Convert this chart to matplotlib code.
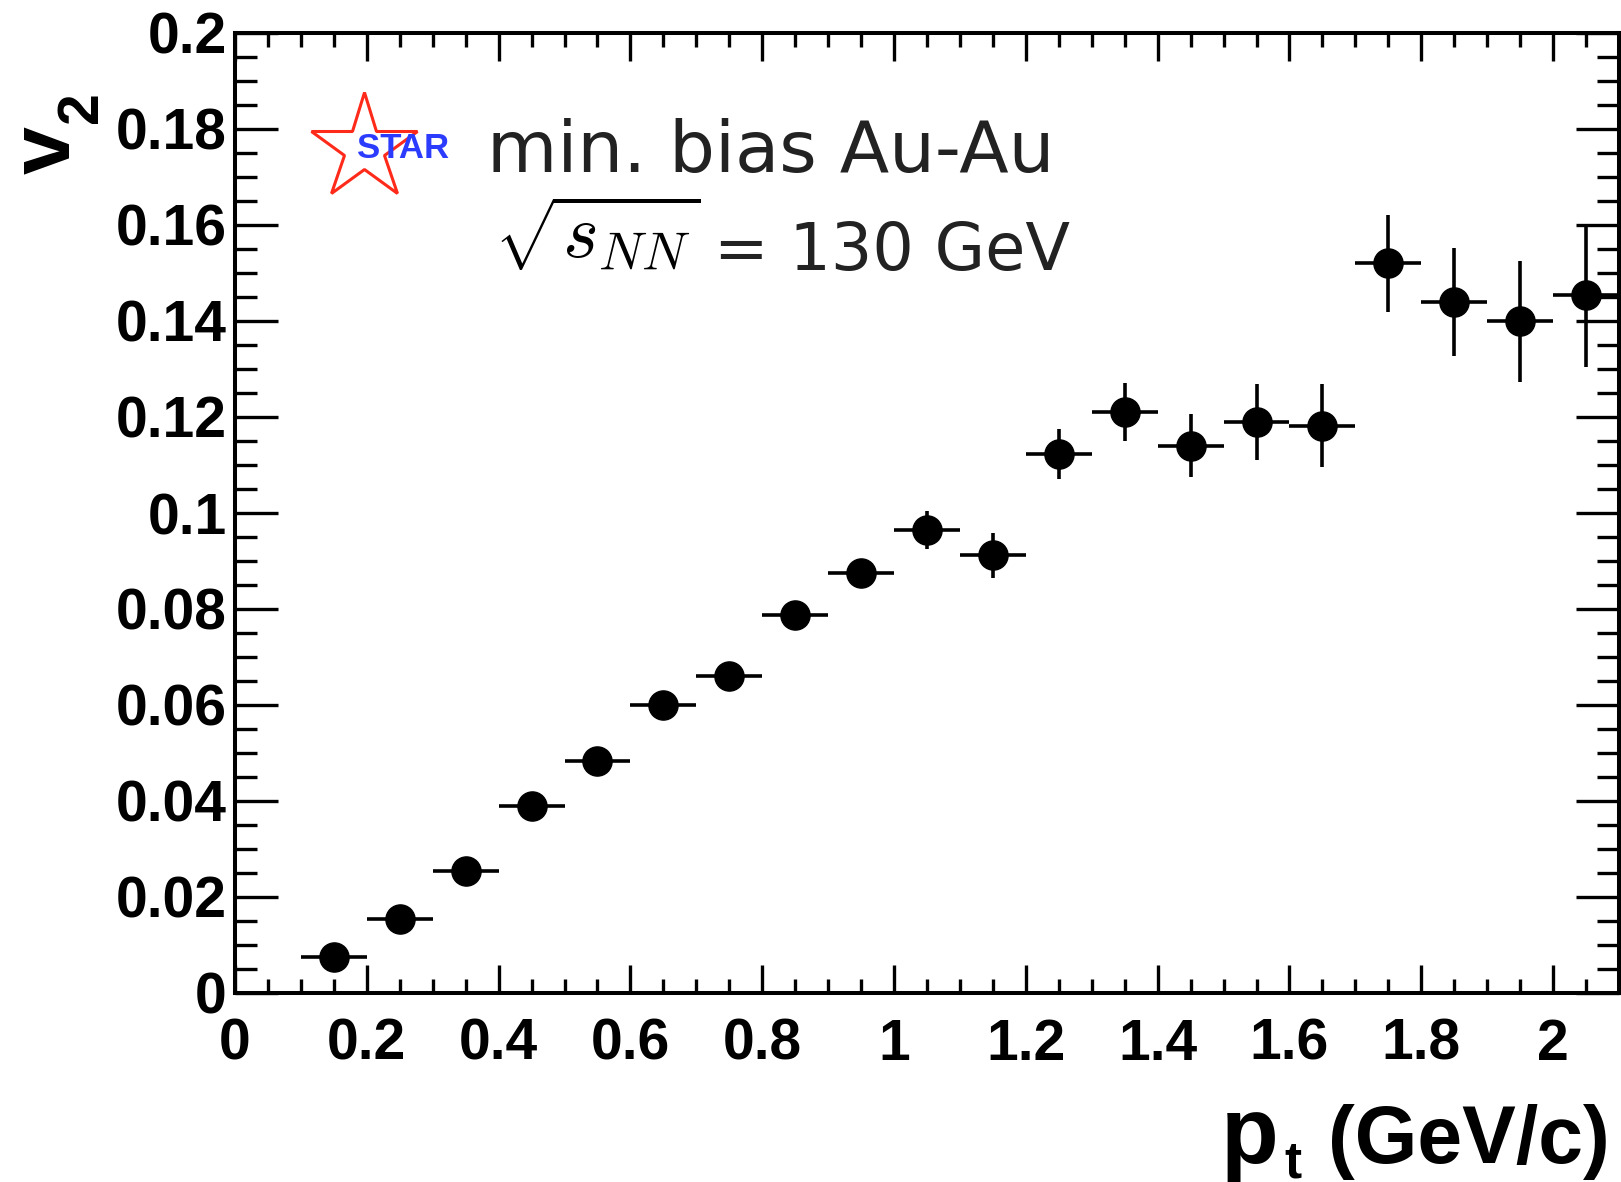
import numpy as np
import matplotlib
matplotlib.use("Agg")
import matplotlib.pyplot as plt
from matplotlib.ticker import MultipleLocator, FuncFormatter

# v2 vs pt, min. bias Au-Au at 130 GeV
pt = [0.15, 0.25, 0.35, 0.45, 0.55, 0.65, 0.75, 0.85, 0.95, 1.05,
      1.15, 1.25, 1.35, 1.45, 1.55, 1.65, 1.75, 1.85, 1.95, 2.05]
v2 = [0.0076, 0.0154, 0.0255, 0.0390, 0.0484, 0.0599, 0.0661, 0.0788, 0.0876, 0.0965,
      0.0912, 0.1123, 0.1211, 0.1140, 0.1189, 0.1182, 0.1520, 0.1440, 0.1399, 0.1454]
v2_err = [0.0008, 0.0010, 0.0012, 0.0014, 0.0016, 0.0018, 0.0020, 0.0023, 0.0028, 0.0040,
          0.0047, 0.0053, 0.0060, 0.0066, 0.0079, 0.0087, 0.0101, 0.0113, 0.0127, 0.0149]
bin_half = 0.05

W, H = 1621, 1182
def fx(px):
    return px / W
def fy(py):
    return 1 - py / H

fig = plt.figure(figsize=(W / 100, H / 100), dpi=100)
ax = fig.add_axes([fx(235), fy(993), fx(1619) - fx(235), fy(33) - fy(993)])

ax.errorbar(pt, v2, xerr=bin_half, yerr=v2_err, fmt='o', color='black',
            ms=21, elinewidth=2.6, capsize=0)

ax.set_xlim(0, 2.1)
ax.set_ylim(0, 0.2)
ax.xaxis.set_major_locator(MultipleLocator(0.2))
ax.xaxis.set_minor_locator(MultipleLocator(0.05))
ax.yaxis.set_major_locator(MultipleLocator(0.02))
ax.yaxis.set_minor_locator(MultipleLocator(0.005))
fmt = FuncFormatter(lambda v, p: f'{v:g}')
ax.xaxis.set_major_formatter(fmt)
ax.yaxis.set_major_formatter(fmt)

for s in ax.spines.values():
    s.set_linewidth(2.9)
ax.tick_params(axis='both', which='both', direction='in', top=True, right=True, width=2.4)
ax.tick_params(axis='x', which='major', length=20, pad=18)
ax.tick_params(axis='x', which='minor', length=10)
ax.tick_params(axis='y', which='major', length=31, pad=6)
ax.tick_params(axis='y', which='minor', length=16)
for lab in ax.get_xticklabels() + ax.get_yticklabels():
    lab.set_fontfamily('Liberation Sans')
    lab.set_fontweight('bold')
    lab.set_fontsize(41)

# axis titles at the ends of the axes (ROOT style, big p and v with subscripts)
bold = dict(fontfamily='Liberation Sans', fontweight='bold', color='black')
fig.text(fx(1610), fy(1163), '(GeV/c)', ha='right', va='baseline', fontsize=58, **bold)
fig.text(fx(1221), fy(1163), 'p', ha='left', va='baseline', fontsize=68, **bold)
fig.text(fx(1284), fy(1177), 't', ha='left', va='baseline', fontsize=37, **bold)
fig.text(fx(70), fy(174), 'v', rotation=90, rotation_mode='anchor',
         ha='left', va='baseline', fontsize=62, **bold)
fig.text(fx(97), fy(123), '2', rotation=90, rotation_mode='anchor',
         ha='left', va='baseline', fontsize=41, **bold)

# STAR logo
ax.plot([(364 - 235) / (1619 - 235)], [(993 - 148) / (993 - 33)], marker='*', ms=80,
        mfc='none', mec='#ff2a1a', mew=2.2, transform=ax.transAxes, clip_on=False)
fig.text(fx(403), fy(149), 'STAR', ha='center', va='center', color='#2b3cff',
         fontsize=25, fontweight='bold', fontfamily='Liberation Sans')

# labels
fig.text(fx(487), fy(172), 'min. bias Au-Au', ha='left', va='baseline',
         fontsize=52, fontfamily='DejaVu Sans', color='#222222')
fig.text(fx(494), fy(258), r'$\sqrt{s_{NN}}$', ha='left', va='baseline',
         fontsize=55, math_fontfamily='cm', color='black')
fig.text(fx(714), fy(270), '= 130 GeV', ha='left', va='baseline',
         fontsize=47, fontfamily='DejaVu Sans', color='#222222')

fig.savefig('out.png', dpi=100)
